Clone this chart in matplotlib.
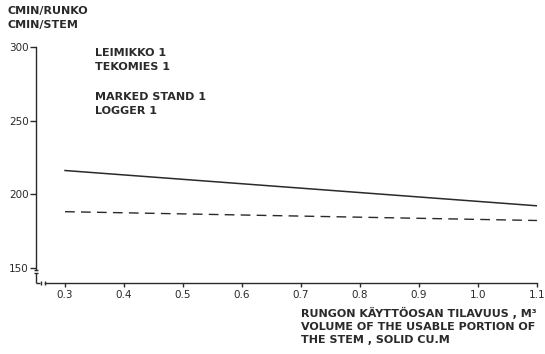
import matplotlib
matplotlib.use("Agg")
import matplotlib.pyplot as plt

# Stem volume (solid cu.m) and working time per stem (cmin)
volume = [0.3, 1.1]
time_solid = [216, 192]
time_dashed = [188, 182]

x_ticks = [0.3, 0.4, 0.5, 0.6, 0.7, 0.8, 0.9, 1.0, 1.1]
x_tick_labels = ["0.3", "0.4", "0.5", "0.6", "0.7", "0.8", "0.9", "1.0", "1.1"]
y_ticks = [150, 200, 250, 300]
y_tick_labels = ["150", "200", "250", "300"]

ink = "#2a2a2a"
W, H = 545, 354
fig = plt.figure(figsize=(W / 100, H / 100), dpi=100)
fig.patch.set_facecolor("white")

# axes box: left 36 px, right 537 px, top 47 px, bottom 283 px
ax = fig.add_axes([36 / W, (H - 283) / H, 501 / W, 236 / H])
ax.set_xlim(0.2508, 1.1)
ax.set_ylim(139.5, 300)

ax.plot(volume, time_solid, color=ink, lw=1.1)
ax.plot(volume, time_dashed, color=ink, lw=1.0, dashes=(7, 4.5))

for s in ("top", "right"):
    ax.spines[s].set_visible(False)
ax.spines["left"].set_bounds(148.2, 300)
ax.spines["bottom"].set_bounds(0.2655, 1.1)
for s in ("left", "bottom"):
    ax.spines[s].set_color(ink)
    ax.spines[s].set_linewidth(1.0)

ax.set_xticks(x_ticks)
ax.set_xticklabels(x_tick_labels)
ax.set_yticks(y_ticks)
ax.set_yticklabels(y_tick_labels)
ax.tick_params(axis="both", colors=ink, labelsize=7.5, width=1.0)
ax.tick_params(axis="x", length=3, pad=2)
ax.tick_params(axis="y", length=4, pad=1)

# broken-axis marks and the short corner segment below the break
kw = dict(color=ink, lw=1.0, clip_on=False, solid_capstyle="butt")
ax.plot([0.2508, 0.2508], [146.0, 139.5], **kw)
ax.plot([0.2508, 0.2580], [139.5, 139.5], **kw)
ax.plot([0.2470, 0.2550], [148.2, 148.2], **kw)
ax.plot([0.2470, 0.2550], [146.0, 146.0], **kw)
ax.plot([0.2590, 0.2590], [138.3, 141.0], **kw)
ax.plot([0.2660, 0.2660], [138.3, 141.0], **kw)

font = dict(color=ink, fontsize=8, fontweight="bold", family="DejaVu Sans")
fig.text(7 / W, 1 - 11 / H, "CMIN/RUNKO", va="center", ha="left", **font)
fig.text(7 / W, 1 - 25 / H, "CMIN/STEM", va="center", ha="left", **font)

fig.text(95 / W, 1 - 53 / H, "LEIMIKKO 1", va="center", ha="left", **font)
fig.text(95 / W, 1 - 67 / H, "TEKOMIES 1", va="center", ha="left", **font)
fig.text(95 / W, 1 - 97 / H, "MARKED STAND 1", va="center", ha="left", **font)
fig.text(95 / W, 1 - 111 / H, "LOGGER 1", va="center", ha="left", **font)

fig.text(301 / W, 1 - 313 / H, "RUNGON KÄYTTÖOSAN TILAVUUS , M³",
         va="center", ha="left", **font)
fig.text(301 / W, 1 - 326.5 / H, "VOLUME OF THE USABLE PORTION OF",
         va="center", ha="left", **font)
fig.text(301 / W, 1 - 340 / H, "THE STEM , SOLID CU.M",
         va="center", ha="left", **font)

fig.savefig("out.png", dpi=100, facecolor="white")
